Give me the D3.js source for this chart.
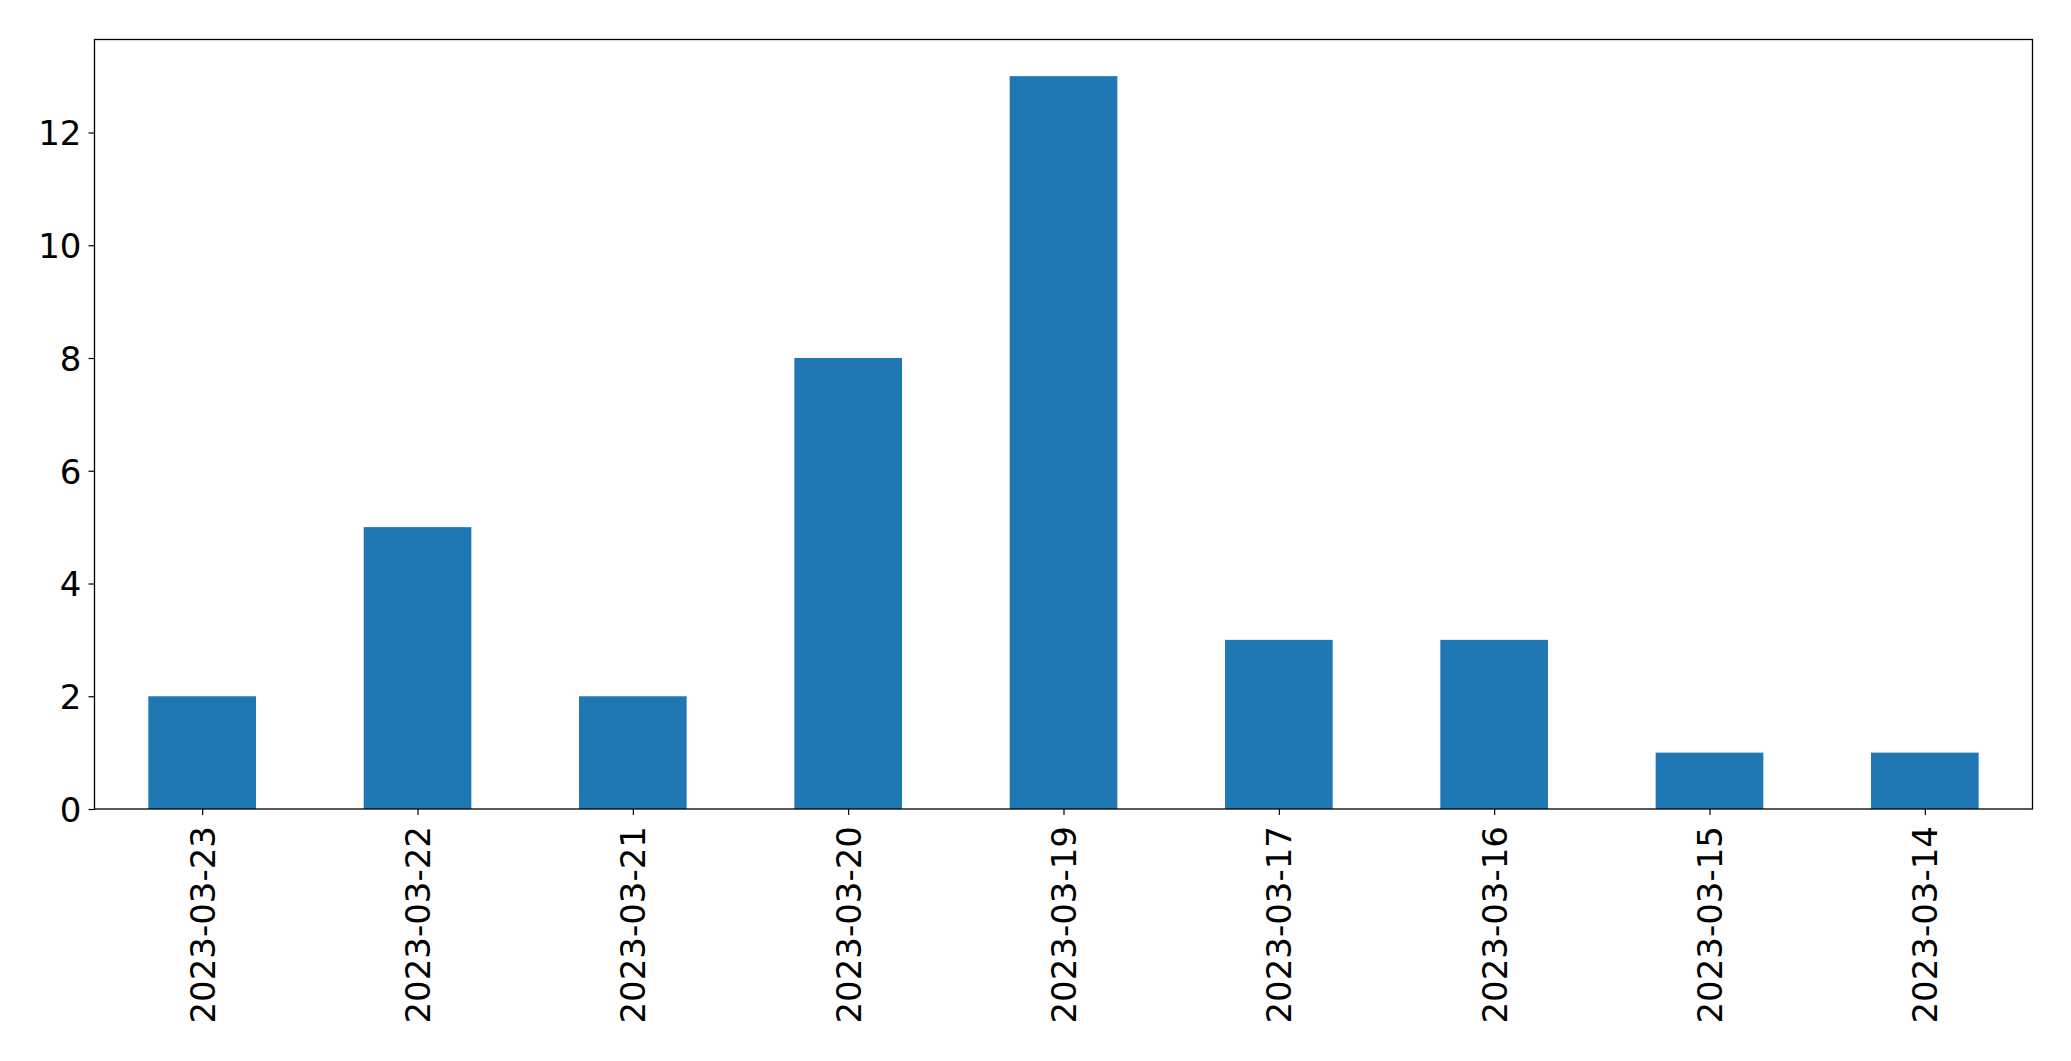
<!DOCTYPE html>
<html>
<head>
<meta charset="utf-8">
<script src="https://cdn.jsdelivr.net/npm/d3@7"></script>
<style>
  html, body { margin: 0; padding: 0; background: #fff; }
  svg { display: block; }
</style>
</head>
<body>
<svg id="chart" width="2071" height="1061"></svg>
<script>
const categories = ["2023-03-23","2023-03-22","2023-03-21","2023-03-20","2023-03-19","2023-03-17","2023-03-16","2023-03-15","2023-03-14"];
const values = [2, 5, 2, 8, 13, 3, 3, 1, 1];
const yTicks = [0, 2, 4, 6, 8, 10, 12];

const W = 2071, H = 1061;
const margin = {left: 94.5, right: W - 2032.5, top: 39.5, bottom: H - 809};
const svg = d3.select("#chart");
const g = svg.append("g");

const x = d3.scaleLinear().domain([-0.5, categories.length - 0.5]).range([margin.left, W - margin.right]);
const y = d3.scaleLinear().domain([0, d3.max(values) * 1.05]).range([H - margin.bottom, margin.top]);

const fontFamily = "'DejaVu Sans', sans-serif";
const fontSize = 34;

// bars
g.selectAll("rect.bar").data(values).enter().append("rect")
  .attr("class", "bar")
  .attr("x", (d, i) => x(i - 0.25))
  .attr("width", (d, i) => x(i + 0.25) - x(i - 0.25))
  .attr("y", d => y(d))
  .attr("height", d => y(0) - y(d))
  .attr("fill", "#1f77b4");

// x axis
const xAxis = d3.axisBottom(x)
  .tickValues(d3.range(categories.length))
  .tickFormat(i => categories[i])
  .tickSize(6).tickPadding(10);
const gx = g.append("g").attr("transform", `translate(0,${H - margin.bottom})`).call(xAxis);
gx.select(".domain").remove();
gx.selectAll(".tick line").attr("stroke", "#000").attr("stroke-width", 1.2);
gx.selectAll(".tick text")
  .attr("font-family", fontFamily).attr("font-size", fontSize).attr("fill", "#000")
  .attr("text-anchor", "end")
  .attr("transform", "translate(0,17) rotate(-90)")
  .attr("x", 0).attr("y", 0).attr("dy", "0.35em");

// y axis
const yAxis = d3.axisLeft(y).tickValues(yTicks).tickFormat(d3.format("d")).tickSize(6).tickPadding(7);
const gy = g.append("g").attr("transform", `translate(${margin.left},0)`).call(yAxis);
gy.select(".domain").remove();
gy.selectAll(".tick line").attr("stroke", "#000").attr("stroke-width", 1.2);
gy.selectAll(".tick text")
  .attr("font-family", fontFamily).attr("font-size", fontSize).attr("fill", "#000")
  .attr("dy", "0.36em");

// frame
g.append("rect")
  .attr("x", margin.left).attr("y", margin.top)
  .attr("width", W - margin.right - margin.left)
  .attr("height", H - margin.bottom - margin.top)
  .attr("fill", "none").attr("stroke", "#000").attr("stroke-width", 1.3);
</script>
</body>
</html>
